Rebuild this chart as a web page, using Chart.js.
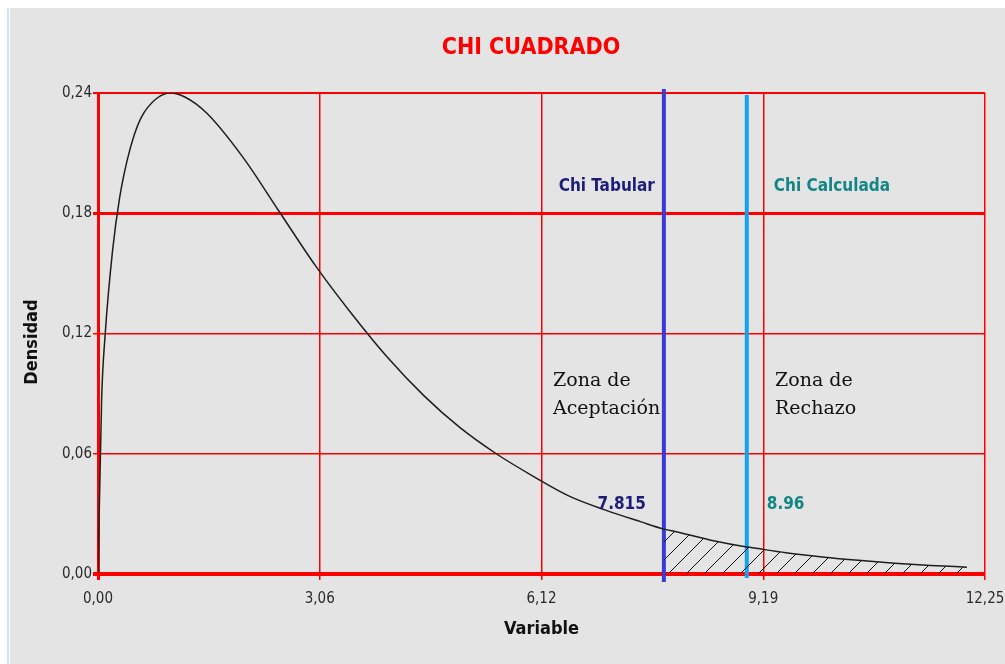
<!DOCTYPE html>
<html>
<head>
<meta charset="utf-8">
<script src="https://cdn.jsdelivr.net/npm/chart.js@4.4.1/dist/chart.umd.min.js"></script>
<style>
  body { margin: 0; background: #fff; }
  #edge { position: absolute; left: 7px; top: 8px; width: 2px; height: 656px; background: #d3e3f6; }
  #chart { position: absolute; left: 10px; top: 8px; background: #e4e4e4; }
</style>
</head>
<body>
<div id="edge"></div>
<canvas id="chart" width="995" height="656"></canvas>
<script>
// curve (Variable vs Densidad)
const xValues = [0, 0.05, 0.1, 0.2, 0.3, 0.4, 0.5, 0.6, 0.8, 1.0, 1.2, 1.5, 2.0, 2.5, 3.0, 3.5, 4.0, 4.5, 5.0, 5.5, 6.0, 6.5, 7.0, 7.5, 7.815, 8.0, 8.5, 8.96, 9.0, 9.5, 10.0, 10.5, 11.0, 11.5, 12.0];
const density = [0, 0.087, 0.120, 0.161, 0.188, 0.206, 0.219, 0.228, 0.237, 0.240, 0.238, 0.230, 0.208, 0.181, 0.154, 0.130, 0.108, 0.089, 0.073, 0.060, 0.049, 0.039, 0.032, 0.026, 0.0224, 0.021, 0.0166, 0.0135, 0.0133, 0.0106, 0.0085, 0.0068, 0.0054, 0.0043, 0.0034];

const chiTabular = 7.815;
const chiCalculada = 8.96;

const xTickValues = [0, 3.0625, 6.125, 9.1875, 12.25];
const xTickLabels = ["0,00", "3,06", "6,12", "9,19", "12,25"];
const yTickValues = [0, 0.06, 0.12, 0.18, 0.24];
const yTickLabels = ["0,00", "0,06", "0,12", "0,18", "0,24"];

const curvePoints = xValues.map((x, i) => ({ x: x, y: density[i] }));
const tailPoints = curvePoints.filter((p) => p.x >= chiTabular);

// diagonal hatch for the rejection tail
function hatch() {
  const c = document.createElement("canvas");
  c.width = 18;
  c.height = 18;
  const g = c.getContext("2d");
  g.strokeStyle = "#111";
  g.lineWidth = 1;
  g.beginPath();
  g.moveTo(0, 18);
  g.lineTo(18, 0);
  g.stroke();
  return g.createPattern(c, "repeat");
}

const headFont = '"DejaVu Sans Condensed", "DejaVu Sans", sans-serif';
const serifFont = '"DejaVu Serif", serif';

const labelsPlugin = {
  id: "labels",
  afterDraw(chart) {
    const { ctx, chartArea, scales } = chart;
    const xs = scales.x;
    const xt = xs.getPixelForValue(chiTabular);
    const xc = xs.getPixelForValue(chiCalculada);
    ctx.save();
    ctx.textBaseline = "middle";

    ctx.fillStyle = "#ff0000";
    ctx.font = "bold 23px " + headFont;
    ctx.textAlign = "center";
    ctx.fillText("CHI CUADRADO", 521, 40);

    ctx.fillStyle = "#111";
    ctx.font = "bold 18px " + headFont;
    ctx.fillText("Variable", (chartArea.left + chartArea.right) / 2, 621);
    ctx.save();
    ctx.translate(22, 334);
    ctx.rotate(-Math.PI / 2);
    ctx.fillText("Densidad", 0, 0);
    ctx.restore();

    ctx.font = "bold 17px " + headFont;
    ctx.textAlign = "right";
    ctx.fillStyle = "#1c1c7a";
    ctx.fillText("Chi Tabular", xt - 9, 179);
    ctx.fillText("7.815", xt - 18, 497);
    ctx.textAlign = "left";
    ctx.fillStyle = "#138585";
    ctx.fillText("Chi Calculada", xc + 27, 179);
    ctx.fillText("8.96", xc + 20, 497);

    ctx.fillStyle = "#111";
    ctx.font = "19px " + serifFont;
    ctx.fillText("Zona de", 543, 373);
    ctx.fillText("Aceptación", 543, 401);
    ctx.fillText("Zona de", 765, 373);
    ctx.fillText("Rechazo", 765, 401);
    ctx.restore();
  }
};

const tickFont = { family: headFont, size: 15 };

new Chart(document.getElementById("chart"), {
  type: "scatter",
  data: {
    datasets: [
      {
        data: tailPoints,
        showLine: true,
        fill: "origin",
        backgroundColor: hatch(),
        borderWidth: 0,
        pointRadius: 0,
        cubicInterpolationMode: "monotone"
      },
      {
        data: curvePoints,
        showLine: true,
        borderColor: "#1e1e1e",
        borderWidth: 1.5,
        pointRadius: 0,
        cubicInterpolationMode: "monotone"
      },
      {
        data: [{ x: chiTabular, y: -0.004 }, { x: chiTabular, y: 0.242 }],
        showLine: true,
        borderColor: "#3a3ad4",
        borderWidth: 4,
        pointRadius: 0,
        clip: false
      },
      {
        data: [{ x: chiCalculada, y: -0.002 }, { x: chiCalculada, y: 0.239 }],
        showLine: true,
        borderColor: "#14a2ee",
        borderWidth: 4,
        pointRadius: 0,
        clip: false
      }
    ]
  },
  options: {
    responsive: false,
    animation: false,
    layout: { padding: { top: 85, right: 20, left: 0, bottom: 0 } },
    plugins: {
      legend: { display: false },
      tooltip: { enabled: false }
    },
    scales: {
      x: {
        type: "linear",
        min: 0,
        max: 12.25,
        afterBuildTicks: (scale) => {
          scale.ticks = xTickValues.map((v) => ({ value: v }));
        },
        afterFit: (scale) => {
          scale.height = 90;
          scale.paddingLeft = 0;
          scale.paddingRight = 0;
        },
        ticks: {
          callback: (val, i) => xTickLabels[i],
          color: "#2a2a2a",
          padding: 10,
          maxRotation: 0,
          font: tickFont
        },
        grid: {
          color: "#ff0000",
          lineWidth: (c) => (c.tick && c.tick.value === 0 ? 3 : 1.5),
          tickLength: 6
        },
        border: { display: false }
      },
      y: {
        min: 0,
        max: 0.24,
        afterBuildTicks: (scale) => {
          scale.ticks = yTickValues.map((v) => ({ value: v }));
        },
        afterFit: (scale) => {
          scale.width = 88;
          scale.paddingTop = 0;
          scale.paddingBottom = 0;
        },
        ticks: {
          callback: (val, i) => yTickLabels[i],
          color: "#2a2a2a",
          padding: 1,
          font: tickFont
        },
        grid: {
          color: "#ff0000",
          lineWidth: (c) => {
            if (!c.tick) return 1.5;
            if (c.tick.value === 0) return 4;
            if (c.tick.value === 0.18) return 3;
            if (c.tick.value === 0.24) return 2;
            return 1.5;
          },
          tickLength: 5
        },
        border: { display: false }
      }
    }
  },
  plugins: [labelsPlugin]
});
</script>
</body>
</html>
